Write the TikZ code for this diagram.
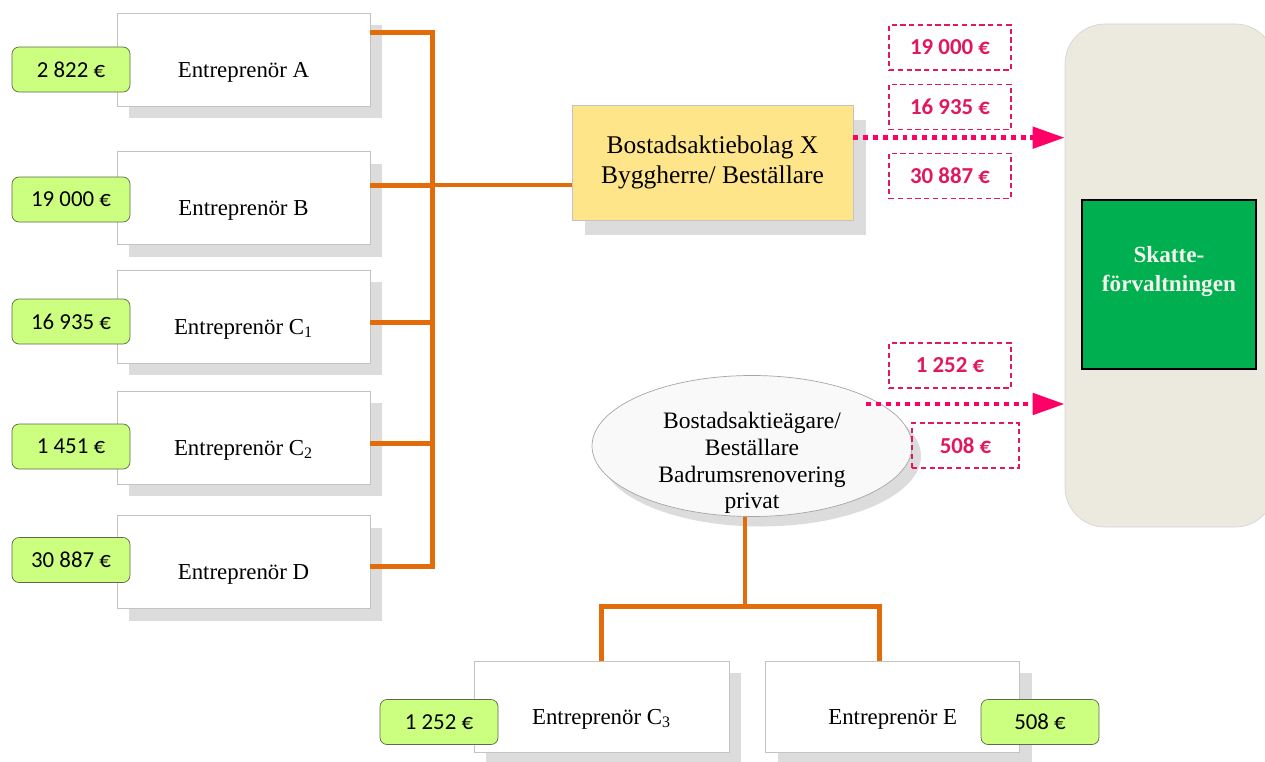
\documentclass[tikz,border=0pt]{standalone}
\usepackage{fontspec}
\setmainfont{Liberation Serif}
\newfontfamily\sumfont{Carlito}
\usetikzlibrary{shapes.geometric, arrows.meta, positioning, calc, shadows}
\definecolor{busorange}{RGB}{227,108,10}
\definecolor{sumgreen}{RGB}{204,255,128}
\definecolor{sumedge}{RGB}{95,105,75}
\definecolor{flowpink}{RGB}{255,0,102}
\definecolor{amountpink}{RGB}{224,24,96}
\definecolor{ordergold}{RGB}{255,229,138}
\definecolor{shadegray}{RGB}{220,220,220}
\definecolor{edgegray}{RGB}{195,195,195}
\definecolor{agencybeige}{RGB}{236,233,223}
\definecolor{agencygreen}{RGB}{0,176,80}

\begin{document}
\begin{tikzpicture}[
                contractor/.style={rectangle, draw=edgegray, fill=white, minimum width=5.06cm, minimum height=1.86cm, text height=23pt, text depth=3pt, font=\fontsize{13}{15}\selectfont, drop shadow={shadow xshift=0.24cm, shadow yshift=-0.24cm, fill=shadegray, opacity=1}},
                sumbox/.style={rectangle, draw=sumedge, fill=sumgreen, rounded corners=4pt, minimum width=2.36cm, minimum height=0.9cm, font=\sumfont\fontsize{13}{15}\selectfont},
                paidbox/.style={rectangle, draw=amountpink, dash pattern=on 3pt off 2pt, line width=0.6pt, minimum width=2.44cm, minimum height=0.9cm, text=amountpink, font=\sumfont\bfseries\fontsize{13}{15}\selectfont},
                client/.style={rectangle, draw=edgegray, fill=ordergold, minimum width=5.62cm, minimum height=2.3cm, align=center, font=\fontsize{14.5}{17}\selectfont, drop shadow={shadow xshift=0.26cm, shadow yshift=-0.3cm, fill=shadegray, opacity=1}},
                owner/.style={ellipse, draw=gray!70, fill=gray!5, minimum width=6.4cm, minimum height=2.82cm, drop shadow={shadow xshift=0.18cm, shadow yshift=-0.2cm, fill=shadegray, opacity=1}},
                agency/.style={rectangle, rounded corners=0.8cm, draw=edgegray!70, fill=agencybeige, minimum width=4.2cm, minimum height=10.06cm},
                taxoffice/.style={rectangle, draw=black, line width=0.8pt, fill=agencygreen, minimum width=3.48cm, minimum height=3.38cm},
                taxname/.style={align=center, text=agencybeige!60!white, font=\bfseries\fontsize{13.2}{16.5}\selectfont},
                bus/.style={draw=busorange, line width=2.8pt},
                flow/.style={draw=flowpink, line width=2.8pt, dash pattern=on 2.8pt off 2.8pt, -{Triangle[length=0.64cm, width=0.42cm]}}
            ]
                \useasboundingbox (0,0) rectangle (25.3,-15.24);

                % contractors of the company
                \node[contractor] (entA) at (4.87,-1.19) {Entreprenör A};
                \node[contractor, below=0.9cm of entA] (entB) {Entreprenör B};
                \node[contractor, below=0.5cm of entB] (entC1) {Entreprenör C\textsubscript{1}};
                \node[contractor, below=0.54cm of entC1] (entC2) {Entreprenör C\textsubscript{2}};
                \node[contractor, below=0.62cm of entC2] (entD) {Entreprenör D};

                \node[client] (bolag) at (14.25,-3.25) {Bostadsaktiebolag X\\Byggherre/ Beställare};

                % tax office
                \node[agency] (skv) at (23.4,-5.51) {};
                \node[taxoffice] (tax) at (23.38,-5.69) {};
                \node[taxname] (taxtext) at ([yshift=0.26cm]tax.center) {Skatte-\\förvaltningen};

                % private owner
                \node[owner] (priv) at (15.04,-8.92) {};
                \node[align=center, font=\fontsize{13.4}{15.3}\selectfont] (privtext) at ([yshift=-0.34cm]priv.center) {Bostadsaktieägare/\\Beställare\\Badrumsrenovering\\privat};
                \node[contractor, minimum width=5.1cm, minimum height=1.82cm] (entC3) at (12.03,-14.13) {Entreprenör C\textsubscript{3}};
                \node[contractor, minimum width=5.08cm, minimum height=1.82cm, right=0.72cm of entC3] (entE) {Entreprenör E};

                % orange connectors
                \draw[bus] ([yshift=-0.4cm]entA.north east) -- ++(1.24,0) |- ([yshift=-0.08cm]entD.east);
                \draw[bus] ([yshift=-0.12cm]entC1.east) -- ++(1.24,0);
                \draw[bus] ([yshift=-0.11cm]entC2.east) -- ++(1.24,0);
                \draw[bus] ([yshift=0.26cm]entB.east) -- ++(1.24,0);
                \draw[bus, line width=2.3pt] ([yshift=0.26cm]entB.east) -- ([yshift=0.26cm]entB.east -| bolag.west);
                \draw[bus] ([xshift=-0.14cm]priv.south) -- ++(0,-1.8) coordinate (fork);
                \draw[bus] (entC3.north) |- (fork) -| ([xshift=-0.26cm]entE.north);

                % amounts
                \node[sumbox] (sumA) at (1.42,-1.39) {2 822 €};
                \node[sumbox] (sumB) at (1.42,-3.99) {19 000 €};
                \node[sumbox] (sumC1) at (1.42,-6.43) {16 935 €};
                \node[sumbox] (sumC2) at (1.42,-8.93) {1 451 €};
                \node[sumbox] (sumD) at (1.42,-11.2) {30 887 €};
                \node[sumbox] (sumC3) at (8.78,-14.44) {1 252 €};
                \node[sumbox] (sumE) at (20.8,-14.44) {508 €};

                \node[paidbox] (paidB) at (19.0,-0.95) {19 000 €};
                \node[paidbox, below=0.26cm of paidB] (paidC1) {16 935 €};
                \node[paidbox, below=0.46cm of paidC1] (paidD) {30 887 €};
                \node[paidbox] (paidC3) at (19.0,-7.31) {1 252 €};
                \node[paidbox, minimum width=2.14cm] (paidE) at (19.31,-8.91) {508 €};

                % reports
                \draw[flow] (bolag.10) -- (bolag.10 -| skv.west);
                \draw[flow] ([shift={(2.28,0.84)}]priv.center) coordinate (privout) -- (privout -| skv.west);
            \end{tikzpicture}
\end{document}
